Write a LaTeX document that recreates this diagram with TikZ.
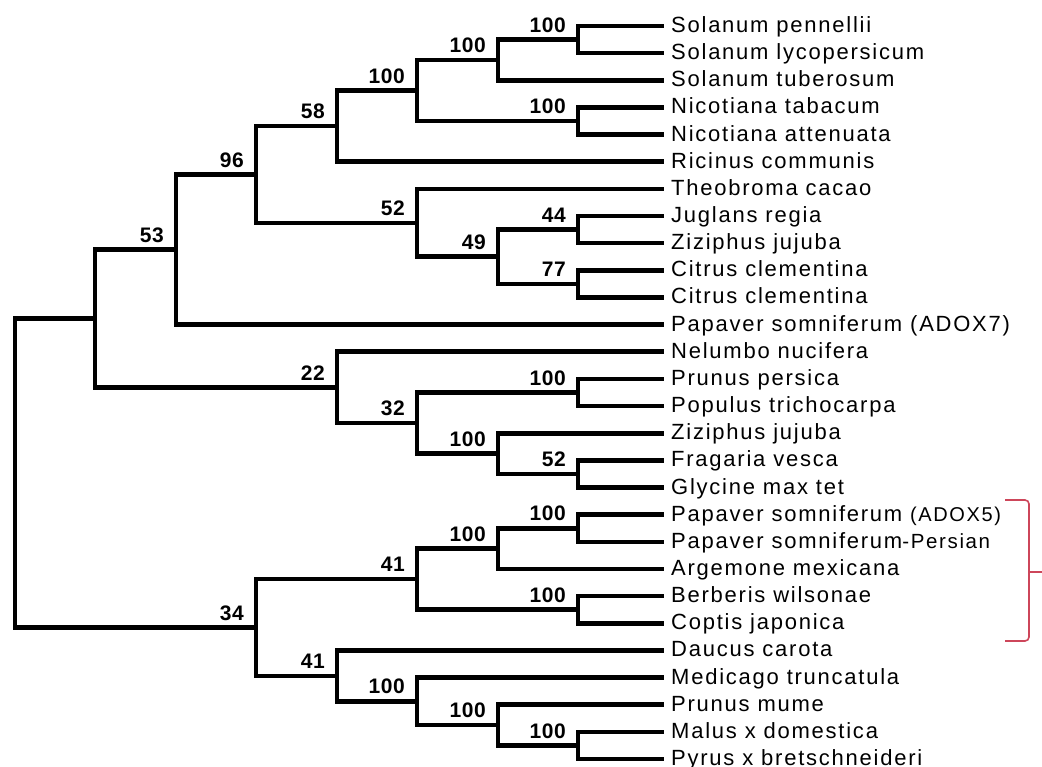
\documentclass[tikz,border=0pt]{standalone}
\usepackage{fontspec}
\newfontfamily\leaffont{Liberation Sans}[LetterSpace=8]
\newfontfamily\bootfont{Liberation Sans}[LetterSpace=3]
\usetikzlibrary{calc}
\definecolor{bracketred}{RGB}{205,70,90}
\tikzset{
  branch/.style={line width=4.6pt, line cap=rect, line join=miter},
  taxon/.style={anchor=base west, inner sep=0pt, font={\leaffont\fontsize{22}{24}\selectfont}},
  boot/.style={anchor=south east, inner sep=0pt, font={\bootfont\bfseries\fontsize{21}{23}\selectfont}},
  brace/.style={draw=bracketred, line width=1.6pt, rounded corners=4pt}
}
\newcommand\leaf[2]{\coordinate (e#1) at (662,{26+27.15*#1});
  \node[taxon] (t#1) at ([xshift=9pt,yshift=-6.5pt]e#1) {#2};}
\newcommand\inode[3]{\coordinate (#1) at (#2,{26+27.15*#3});}
\newcommand\clade[3]{\draw[branch] (#2) -| (#1) |- (#3);}
\newcommand\bs[2]{\node[boot] (b#1) at ([xshift=-12pt,yshift=7pt]#1) {#2};}
\begin{document}
\begin{tikzpicture}[x=1pt,y=-1pt]
\useasboundingbox (0,0) rectangle (1042,767);
% leaves
\leaf{0}{Solanum pennellii}
\leaf{1}{Solanum lycopersicum}
\leaf{2}{Solanum tuberosum}
\leaf{3}{Nicotiana tabacum}
\leaf{4}{Nicotiana attenuata}
\leaf{5}{Ricinus communis}
\leaf{6}{Theobroma cacao}
\leaf{7}{Juglans regia}
\leaf{8}{Ziziphus jujuba}
\leaf{9}{Citrus clementina}
\leaf{10}{Citrus clementina}
\leaf{11}{Papaver somniferum (ADOX7)}
\leaf{12}{Nelumbo nucifera}
\leaf{13}{Prunus persica}
\leaf{14}{Populus trichocarpa}
\leaf{15}{Ziziphus jujuba}
\leaf{16}{Fragaria vesca}
\leaf{17}{Glycine max tet}
\leaf{18}{Papaver somniferum {\fontsize{20}{22}\selectfont(ADOX5)}}
\leaf{19}{Papaver somniferum{\fontsize{20.5}{22}\selectfont-Persian}}
\leaf{20}{Argemone mexicana}
\leaf{21}{Berberis wilsonae}
\leaf{22}{Coptis japonica}
\leaf{23}{Daucus carota}
\leaf{24}{Medicago truncatula}
\leaf{25}{Prunus mume}
\leaf{26}{Malus x domestica}
\leaf{27}{Pyrus x bretschneideri}
% internal nodes
\inode{na}{578}{0.5}
\inode{nb}{498}{1.25}
\inode{nc}{578}{3.5}
\inode{nd}{417}{2.375}
\inode{ne}{337}{3.6875}
\inode{nf}{578}{7.5}
\inode{ng}{578}{9.5}
\inode{nh}{498}{8.5}
\inode{ni}{417}{7.25}
\inode{nj}{256}{5.46875}
\inode{nk}{176}{8.234375}
\inode{nl}{578}{13.5}
\inode{nm}{578}{16.5}
\inode{nn}{498}{15.75}
\inode{no}{417}{14.625}
\inode{np}{337}{13.3125}
\inode{nq}{95}{10.7734375}
\inode{nr}{578}{18.5}
\inode{ns}{498}{19.25}
\inode{nt}{578}{21.5}
\inode{nu}{417}{20.375}
\inode{nv}{578}{26.5}
\inode{nw}{498}{25.75}
\inode{nx}{417}{24.875}
\inode{ny}{337}{23.9375}
\inode{nz}{256}{22.15625}
\inode{root}{15}{16.46484375}
% branches
\clade{na}{e0}{e1}
\clade{nb}{na}{e2}
\clade{nc}{e3}{e4}
\clade{nd}{nb}{nc}
\clade{ne}{nd}{e5}
\clade{nf}{e7}{e8}
\clade{ng}{e9}{e10}
\clade{nh}{nf}{ng}
\clade{ni}{e6}{nh}
\clade{nj}{ne}{ni}
\clade{nk}{nj}{e11}
\clade{nl}{e13}{e14}
\clade{nm}{e16}{e17}
\clade{nn}{e15}{nm}
\clade{no}{nl}{nn}
\clade{np}{e12}{no}
\clade{nq}{nk}{np}
\clade{nr}{e18}{e19}
\clade{ns}{nr}{e20}
\clade{nt}{e21}{e22}
\clade{nu}{ns}{nt}
\clade{nv}{e26}{e27}
\clade{nw}{e25}{nv}
\clade{nx}{e24}{nw}
\clade{ny}{e23}{nx}
\clade{nz}{nu}{ny}
\clade{root}{nq}{nz}
% support values
\bs{na}{100}
\bs{nb}{100}
\bs{nc}{100}
\bs{nd}{100}
\bs{ne}{58}
\bs{nf}{44}
\bs{ng}{77}
\bs{nh}{49}
\bs{ni}{52}
\bs{nj}{96}
\bs{nk}{53}
\bs{nl}{100}
\bs{nm}{52}
\bs{nn}{100}
\bs{no}{32}
\bs{np}{22}
\bs{nr}{100}
\bs{ns}{100}
\bs{nt}{100}
\bs{nu}{41}
\bs{nv}{100}
\bs{nw}{100}
\bs{nx}{100}
\bs{ny}{41}
\bs{nz}{34}
% red bracket
\coordinate (brtop) at (1005,500);
\coordinate (brbot) at (1005,641);
\coordinate (brmid) at (1029,572);
\coordinate (brtip) at (1042,572);
\draw[brace] (brtop) -- (brtop -| brmid) -- (brbot -| brmid) -- (brbot);
\draw[brace] (brmid) -- (brtip);
\end{tikzpicture}
\end{document}
